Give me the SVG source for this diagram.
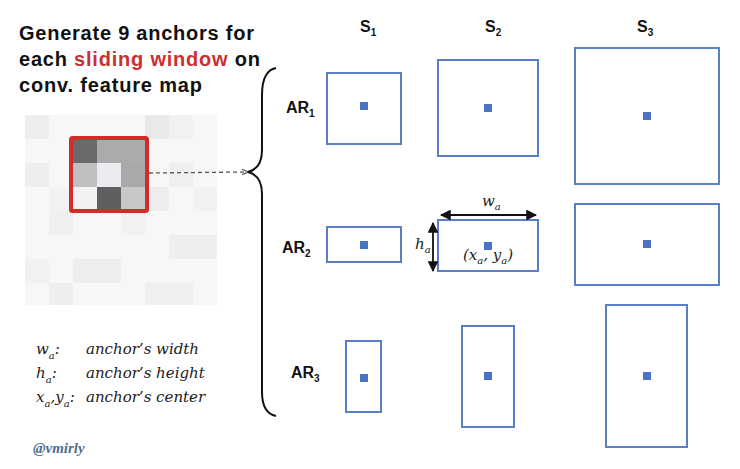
<svg xmlns="http://www.w3.org/2000/svg" width="740" height="469" viewBox="0 0 740 469">
<style>
.title{font-family:"Liberation Sans",Arial,sans-serif;font-weight:bold;font-size:20px;fill:#111}
.lbl{font-family:"Liberation Sans",Arial,sans-serif;font-weight:bold;font-size:16px;fill:#111}
.sub{font-family:"Liberation Sans",Arial,sans-serif;font-weight:bold;font-size:10px;fill:#111}
.it{font-family:"DejaVu Serif","Liberation Serif",serif;font-style:italic;font-size:15px;fill:#222}
.its{font-family:"DejaVu Serif","Liberation Serif",serif;font-style:italic;font-size:10px;fill:#222}
.box{fill:none;stroke:#5b7fc7;stroke-width:2}
.ctr{fill:#4a72c4}
</style>
<defs>
<marker id="ah" viewBox="0 0 10 10" refX="9" refY="5" markerWidth="6" markerHeight="6" orient="auto-start-reverse"><path d="M0,0 L10,5 L0,10 z" fill="#111"/></marker>
<marker id="ahd" viewBox="0 0 10 10" refX="9" refY="5" markerWidth="5" markerHeight="5" orient="auto"><path d="M0,1 L10,5 L0,9" fill="none" stroke="#4a5a4a" stroke-width="2"/></marker>
</defs>
<rect width="740" height="469" fill="#fff"/>

<g id="title">
<text class="title" x="19" y="40" textLength="235">Generate 9 anchors for</text>
<text class="title" x="19" y="66" textLength="241">each <tspan fill="#cc2f30">sliding window</tspan> on</text>
<text class="title" x="19" y="92" textLength="183">conv. feature map</text>
</g>

<g id="feature-map">
<rect x="25" y="115" width="192" height="190" fill="#f7f7f7"/>
<rect x="25" y="115" width="24" height="24" fill="#ededed"/>
<rect x="145" y="115" width="24" height="24" fill="#e9e9e9"/>
<rect x="169" y="115" width="24" height="24" fill="#f1f1f1"/>
<rect x="25" y="163" width="24" height="24" fill="#eeeeee"/>
<rect x="169" y="163" width="24" height="24" fill="#efefef"/>
<rect x="49" y="187" width="24" height="24" fill="#f2f2f2"/>
<rect x="145" y="187" width="24" height="24" fill="#ededed"/>
<rect x="193" y="187" width="24" height="24" fill="#f1f1f1"/>
<rect x="49" y="211" width="24" height="24" fill="#f0f0f0"/>
<rect x="121" y="211" width="24" height="24" fill="#f1f1f1"/>
<rect x="169" y="235" width="48" height="24" fill="#eeeeee"/>
<rect x="73" y="259" width="48" height="24" fill="#ededed"/>
<rect x="25" y="259" width="24" height="24" fill="#f1f1f1"/>
<rect x="49" y="283" width="24" height="22" fill="#eeeeee"/>
<rect x="145" y="283" width="48" height="22" fill="#efefef"/>
<rect x="73" y="139" width="24" height="24" fill="#6a6a6a"/>
<rect x="97" y="139" width="48" height="24" fill="#ababab"/>
<rect x="73" y="163" width="24" height="24" fill="#c0c0c2"/>
<rect x="97" y="163" width="24" height="24" fill="#ececf0"/>
<rect x="121" y="163" width="24" height="24" fill="#a9a9a9"/>
<rect x="73" y="187" width="24" height="24" fill="#f2f2f4"/>
<rect x="97" y="187" width="24" height="24" fill="#5f5f62"/>
<rect x="121" y="187" width="24" height="24" fill="#c8c8c8"/>
<rect x="71" y="138" width="76" height="73" rx="1.5" fill="none" stroke="#d32a2a" stroke-width="4"/>
</g>

<g id="connectors">
<line x1="149" y1="173" x2="248" y2="172" stroke="#4a5a4a" stroke-width="1.3" stroke-dasharray="4,3" marker-end="url(#ahd)"/>
<path d="M276,68 C266,70 262,80 262,95 L262,150 C262,163 256,170 248,172 C256,174 262,181 262,194 L262,392 C262,406 266,414 276,416" fill="none" stroke="#111" stroke-width="2"/>
</g>

<g id="col-labels">
<text class="lbl" x="360" y="32">S<tspan class="sub" dy="4">1</tspan></text>
<text class="lbl" x="485" y="32">S<tspan class="sub" dy="4">2</tspan></text>
<text class="lbl" x="637" y="32">S<tspan class="sub" dy="4">3</tspan></text>
</g>
<g id="row-labels">
<text class="lbl" x="286" y="113">AR<tspan class="sub" dy="4">1</tspan></text>
<text class="lbl" x="282" y="253">AR<tspan class="sub" dy="4">2</tspan></text>
<text class="lbl" x="291" y="378">AR<tspan class="sub" dy="4">3</tspan></text>
</g>

<g id="anchor-ar1-s1"><rect class="box" x="327" y="73" width="74" height="71"/><rect class="ctr" x="360" y="102" width="8" height="8"/></g>
<g id="anchor-ar1-s2"><rect class="box" x="438" y="60" width="100" height="96"/><rect class="ctr" x="484" y="104" width="8" height="8"/></g>
<g id="anchor-ar1-s3"><rect class="box" x="575" y="48" width="144" height="136"/><rect class="ctr" x="643" y="112" width="8" height="8"/></g>
<g id="anchor-ar2-s1"><rect class="box" x="327" y="227" width="74" height="35"/><rect class="ctr" x="360" y="241" width="8" height="8"/></g>
<g id="anchor-ar2-s2"><rect class="box" x="438" y="220" width="100" height="51"/><rect class="ctr" x="484" y="242" width="8" height="8"/></g>
<g id="anchor-ar2-s3"><rect class="box" x="575" y="204" width="144" height="81"/><rect class="ctr" x="643" y="240" width="8" height="8"/></g>
<g id="anchor-ar3-s1"><rect class="box" x="346" y="341" width="35" height="71"/><rect class="ctr" x="360" y="374" width="8" height="8"/></g>
<g id="anchor-ar3-s2"><rect class="box" x="462" y="326" width="52" height="101"/><rect class="ctr" x="484" y="372" width="8" height="8"/></g>
<g id="anchor-ar3-s3"><rect class="box" x="606" y="305" width="81" height="142"/><rect class="ctr" x="643" y="372" width="8" height="8"/></g>

<g id="dimensions">
<line x1="441" y1="215" x2="536" y2="215" stroke="#111" stroke-width="1.8" marker-start="url(#ah)" marker-end="url(#ah)"/>
<line x1="433" y1="223" x2="433" y2="271" stroke="#111" stroke-width="1.8" marker-start="url(#ah)" marker-end="url(#ah)"/>
<text class="it" x="482" y="206">w<tspan class="its" dy="4">a</tspan></text>
<text class="it" x="415" y="249">h<tspan class="its" dy="4">a</tspan></text>
<text class="it" x="463" y="260">(x<tspan class="its" dy="4">a</tspan><tspan dy="-4">, y</tspan><tspan class="its" dy="4">a</tspan><tspan dy="-4">)</tspan></text>
</g>

<g id="legend">
<text class="it" x="36" y="354" font-size="17">w<tspan class="its" dy="5">a</tspan><tspan dy="-5">:</tspan></text>
<text class="it" x="86" y="354" font-size="16">anchor’s width</text>
<text class="it" x="36" y="378" font-size="17">h<tspan class="its" dy="5">a</tspan><tspan dy="-5">:</tspan></text>
<text class="it" x="86" y="378" font-size="16">anchor’s height</text>
<text class="it" x="36" y="402" font-size="17">x<tspan class="its" dy="5">a</tspan><tspan dy="-5">,y</tspan><tspan class="its" dy="5">a</tspan><tspan dy="-5">:</tspan></text>
<text class="it" x="86" y="402" font-size="16">anchor’s center</text>
<text x="33" y="453" font-family="'Liberation Serif',serif" font-style="italic" font-weight="bold" font-size="15" fill="#4d6f8f">@vmirly</text>
</g>
</svg>
